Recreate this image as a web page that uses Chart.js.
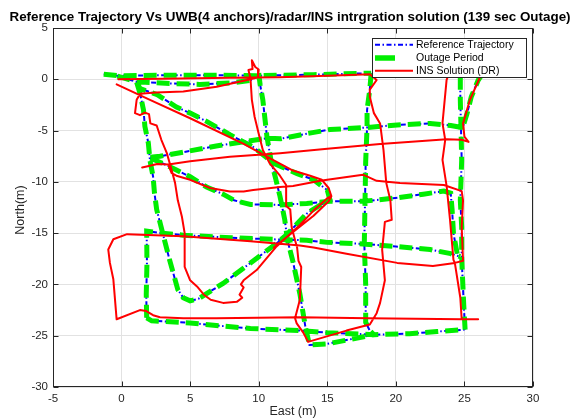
<!DOCTYPE html>
<html>
<head>
<meta charset="utf-8">
<script src="https://cdn.jsdelivr.net/npm/chart.js@4.4.0/dist/chart.umd.min.js"></script>
<style>
  html, body { margin: 0; padding: 0; background: #fff; }
  #wrap { width: 577px; height: 420px; }
</style>
</head>
<body>
<div id="wrap"><canvas id="c" width="577" height="420"></canvas></div>
<script>
// axis ranges and ticks
const xRange = [-5, 30];
const yRange = [-30, 5];
const tickStep = 5;

// reference trajectory pieces, [east, north] in metres
const refTop = [[-1.3,0.5],[-0.3,0.35],[3,0.4],[7,0.4],[10,0.35],[14,0.45],[18.2,0.6]];
const refTopLow = [[-0.3,0.3],[1.1,-0.25],[3.5,-0.4],[5.7,-0.5],[8,-0.35],[9.4,-0.1],[10.0,0.35]];
const refDiag = [[1.1,-0.3],[1.35,-0.9],[2.6,-1.5],[4.0,-2.7],[5.0,-3.3],[6.2,-4.1],[7.9,-5.4],[9.6,-6.6],[11.1,-8.2],[12.8,-9.2],[14.0,-9.8],[15.0,-10.8],[15.2,-11.8]];
const refLeft = [[1.1,-0.3],[1.35,-1.4],[1.6,-3.0],[1.7,-4.6],[1.95,-6.2],[2.07,-7.9],[2.3,-9.5],[2.4,-11.1],[2.56,-12.7],[3.0,-15.0],[3.5,-17.6],[4.1,-20.5],[4.5,-21.3],[5.0,-21.6],[5.6,-21.4],[6.2,-20.9],[7.4,-19.9],[9.4,-17.9],[11.3,-16.0],[12.0,-15.2],[13.5,-13.1],[14.5,-12.25],[15.2,-11.8]];
const refNorth5 = [[2.1,-7.6],[2.8,-7.5],[4.5,-7.1],[6.9,-6.5],[9.4,-6.0],[10.6,-5.75],[11.6,-5.8],[13.5,-5.3],[15.2,-4.9],[17.9,-4.7],[20.1,-4.45],[22.5,-4.3],[24.0,-4.5],[24.8,-4.7]];
const refNorth12 = [[2.1,-7.7],[3.0,-8.2],[4.0,-8.85],[5.0,-9.5],[6.2,-10.5],[7.4,-11.2],[8.2,-11.8],[9.4,-12.2],[11.5,-12.25],[13.5,-12.1],[15.2,-11.9],[17.6,-11.9],[19.8,-11.6],[22,-11.2],[23.5,-10.9],[24.0,-11.1],[24.1,-12.7],[24.2,-15.0],[24.5,-17.2]];
const refCentre = [[10.0,0.6],[10.1,-0.5],[10.3,-2.0],[10.6,-5.6],[10.9,-7.9],[11.2,-9.5],[11.55,-11.4],[11.9,-13.7],[12.1,-15.7],[12.5,-17.8],[13.0,-20.9],[13.4,-24.1],[13.7,-25.9],[15,-25.8],[16.5,-25.4],[18.4,-24.9]];
const refEast18 = [[18.2,0.6],[18.1,-1.0],[17.9,-3],[17.9,-4.7],[17.8,-8],[17.75,-12],[17.7,-16],[17.8,-20],[17.8,-23.7],[18.1,-24.5],[18.4,-24.9]];
const refSouth15 = [[1.83,-23.25],[1.8,-21],[1.85,-18],[1.83,-14.8],[3,-15.0],[4.5,-15.2],[8,-15.45],[11,-15.6],[13.5,-15.7],[15,-15.9],[17.6,-16.05],[20,-16.3],[22.5,-16.6],[24.0,-17.0],[24.7,-17.3]];
const refSouth24 = [[1.83,-23.25],[2.2,-23.55],[3,-23.6],[5,-23.75],[6.9,-24.0],[9.4,-24.3],[13.0,-24.5],[15,-24.7],[18.4,-24.9],[21,-24.8],[23,-24.6],[25.05,-24.4]];
const refEast25 = [[25.05,-24.4],[24.95,-22],[24.85,-19],[24.8,-17.3],[24.8,-14.4],[24.7,-11.8],[24.8,-7.9],[24.75,-4.7],[24.7,-2],[24.7,0.3]];
const refEast26 = [[26.3,0.5],[26.0,-0.1],[25.5,-1.7],[25.2,-3.3],[24.9,-4.6]];

// INS (dead reckoning) pieces
const insMain = [[-0.24,0.0],[3,0.05],[7.9,0.15],[11.5,0.2],[15,0.35],[18.1,0.5],[18.6,-0.07],[18.1,-1.0],[18.1,-1.7],[18.4,-3.3],[18.85,-4.3],[19.1,-6.9],[19.3,-10.1],[19.6,-11.8],[19.7,-13.7],[19.2,-13.9],[19.1,-15.3],[19.0,-16.6],[19.2,-19.6],[18.85,-21.8],[18.6,-22.8],[18.1,-23.9],[16.4,-24.5],[13.6,-25.6],[13.25,-24.7],[12.77,-23.8],[12.65,-23.3],[13.0,-21.5],[13.1,-18.3],[12.9,-17.7],[12.8,-16.4],[12.65,-15.7],[12.4,-14.4],[12.3,-12.7],[12.05,-12.4],[12.0,-10.3],[11.55,-9.4],[10.8,-8.2],[10.3,-6.9],[10.0,-5.3],[9.7,-3.65],[9.5,-2.0],[9.4,0.1],[9.25,0.9],[9.55,1.0],[9.5,1.85],[9.75,1.2],[10.0,0.95],[9.95,0.2],[9.4,0.0],[6.94,-0.72],[4.5,-1.2],[2.5,-1.3],[1.35,-1.4],[1.1,-2.0],[0.98,-3.3],[1.34,-3.5],[1.7,-3.25],[2.0,-3.4],[2.1,-4.3],[2.56,-4.5],[2.9,-5.9],[3.3,-7.2],[3.65,-8.85],[3.9,-10.1],[4.1,-11.8],[4.4,-13.4],[4.6,-15.0],[4.6,-18.3],[5.0,-19.6],[5.5,-20.2],[6.0,-21.0],[6.5,-21.5],[7.4,-21.8],[8.4,-21.7],[8.8,-21.3],[8.6,-21.0],[8.9,-20.3],[8.7,-20.0],[8.9,-19.6],[9.85,-18.6],[11.3,-16.3],[13.0,-14.2],[14.0,-12.8],[15.0,-11.6],[15.3,-11.4],[15.1,-10.6],[14.6,-9.8]];
const insDiag = [[14.6,-9.8],[13.75,-9.4],[12.5,-8.9],[11.1,-7.9],[8.9,-6.3],[5.0,-3.8],[2.07,-2.0],[-0.36,-0.5]];
const insReturn = [[15.3,-11.4],[15.1,-11.9],[14.0,-13.3],[12.6,-14.8],[11.1,-16.4]];
const insMid7 = [[1.5,-8.6],[1.83,-8.5],[2.6,-8.25],[3.4,-8.3],[5.0,-8.0],[7.9,-7.55],[11.55,-7.2],[15.2,-6.75],[18.85,-6.3],[23.7,-5.85],[24.8,-5.9],[25.3,-6.1],[25.0,-5.6],[24.9,-4.3],[25.4,-2.0],[26.1,0.1],[26.5,0.9]];
const insMid10 = [[3.4,-8.3],[3.65,-9.15],[4.0,-9.4],[5.0,-9.8],[6.45,-10.6],[7.9,-10.95],[8.9,-10.95],[9.6,-10.8],[11.55,-10.5],[12.5,-10.4],[14.5,-9.9],[15.0,-9.8],[17.6,-9.3],[18.6,-9.9],[20.3,-10.1],[23.5,-10.3],[24.8,-10.9],[24.9,-11.8],[24.8,-14.4],[24.9,-17.7],[24.3,-17.9],[22.7,-18.2],[20.1,-17.9],[16.4,-17.0],[14.0,-16.4],[13.0,-16.2],[9.4,-15.8],[4.5,-15.3],[0.4,-15.1],[-0.6,-15.6],[-0.97,-16.6],[-0.85,-17.9],[-0.6,-19.5],[-0.36,-23.4],[1.34,-22.5],[1.8,-22.6],[2.3,-23.0],[2.8,-23.2],[4.5,-23.3],[6.9,-23.3],[13.0,-23.2],[18.0,-23.3],[24.8,-23.4],[26.0,-23.4]];
const insEast24 = [[23.8,0.3],[23.7,-0.05],[23.4,-4.3],[23.6,-5.9],[23.4,-7.85],[23.7,-10.4],[23.95,-13.7],[24.2,-17.6],[24.3,-17.9],[24.7,-21.3],[24.8,-23.4]];

const refPieces = [refTop, refTopLow, refDiag, refLeft, refNorth5, refNorth12, refCentre, refEast18, refSouth15, refSouth24, refEast25, refEast26];
const insPieces = [insMain, insDiag, insReturn, insMid7, insMid10, insEast24];

const titleText = 'Reference Trajectory Vs UWB(4 anchors)/radar/INS intrgration solution (139 sec Outage)';
const seriesNames = ['Reference Trajectory', 'Outage Period', 'INS Solution (DR)'];

const FONT = '"Liberation Sans", Arial, Helvetica, sans-serif';
const INK = '#262626';
const BLUE_DASH = [5, 2.5, 1.5, 2.5];

// pieces joined with a null point so each one is its own stroke
function joinPieces(pieces) {
  const pts = [];
  pieces.forEach((p, i) => {
    if (i) pts.push({ x: null, y: null });
    p.forEach(v => pts.push({ x: v[0], y: v[1] }));
  });
  return pts;
}

// matlab style box: frame, inward ticks, title, labels, legend
const axesBox = {
  id: 'axesBox',
  afterDatasetsDraw(chart) {
    const { ctx, chartArea: a, scales } = chart;
    const L = Math.round(a.left) + 0.5, R = Math.round(a.right) - 0.5;
    const T = Math.round(a.top) + 0.5, B = Math.round(a.bottom) - 0.5;
    ctx.save();
    ctx.strokeStyle = INK;
    ctx.lineWidth = 1;
    ctx.strokeRect(L, T, R - L, B - T);
    ctx.beginPath();
    scales.x.ticks.forEach(t => {
      const px = Math.round(scales.x.getPixelForValue(t.value)) + 0.5;
      ctx.moveTo(px, B); ctx.lineTo(px, B - 5);
      ctx.moveTo(px, T); ctx.lineTo(px, T + 5);
    });
    scales.y.ticks.forEach(t => {
      const py = Math.round(scales.y.getPixelForValue(t.value)) + 0.5;
      ctx.moveTo(L, py); ctx.lineTo(L + 5, py);
      ctx.moveTo(R, py); ctx.lineTo(R - 5, py);
    });
    ctx.stroke();
    ctx.restore();
  },
  afterDraw(chart) {
    const { ctx, chartArea: a } = chart;
    ctx.save();
    ctx.fillStyle = '#000';
    ctx.textAlign = 'center';
    ctx.textBaseline = 'middle';
    ctx.font = 'bold 13.4px ' + FONT;
    ctx.fillText(titleText, 290, 17);
    ctx.fillStyle = INK;
    ctx.font = '12.5px ' + FONT;
    ctx.fillText('East (m)', (a.left + a.right) / 2, 412);
    ctx.translate(20.5, 210);
    ctx.rotate(-Math.PI / 2);
    ctx.fillText('North(m)', 0, 0);
    ctx.restore();

    // legend
    ctx.save();
    ctx.fillStyle = '#fff';
    ctx.fillRect(373, 39, 153, 38);
    ctx.strokeStyle = INK;
    ctx.lineWidth = 1;
    ctx.strokeRect(372.5, 38.5, 154, 39);
    const rows = [44.7, 58, 70.7];
    ctx.lineWidth = 2;
    ctx.strokeStyle = '#0000ff';
    ctx.setLineDash(BLUE_DASH);
    ctx.beginPath(); ctx.moveTo(375, rows[0]); ctx.lineTo(413, rows[0]); ctx.stroke();
    ctx.setLineDash([]);
    ctx.strokeStyle = '#00ee00';
    ctx.lineWidth = 5.5;
    ctx.beginPath(); ctx.moveTo(375, rows[1]); ctx.lineTo(395, rows[1]); ctx.stroke();
    ctx.strokeStyle = '#ff0000';
    ctx.lineWidth = 2;
    ctx.beginPath(); ctx.moveTo(375, rows[2]); ctx.lineTo(413, rows[2]); ctx.stroke();
    ctx.fillStyle = '#000';
    ctx.font = '10.5px ' + FONT;
    ctx.textBaseline = 'middle';
    seriesNames.forEach((n, i) => ctx.fillText(n, 416, rows[i]));
    ctx.restore();
  }
};

const tickFont = { family: FONT, size: 11.5 };

new Chart(document.getElementById('c').getContext('2d'), {
  type: 'scatter',
  data: {
    datasets: [
      { label: seriesNames[2], data: joinPieces(insPieces), showLine: true, pointRadius: 0,
        borderColor: '#ff0000', borderWidth: 2, borderJoinStyle: 'round', borderCapStyle: 'round' },
      { label: seriesNames[1], data: joinPieces(refPieces), showLine: true, pointRadius: 0,
        borderColor: '#00ee00', borderWidth: 5, borderDash: [13, 7] },
      { label: seriesNames[0], data: joinPieces(refPieces), showLine: true, pointRadius: 0,
        borderColor: '#0000ff', borderWidth: 2, borderDash: BLUE_DASH }
    ]
  },
  options: {
    responsive: false,
    animation: false,
    events: [],
    layout: { padding: { top: 28, right: 44, bottom: 0, left: 0 } },
    plugins: { legend: { display: false }, tooltip: { enabled: false }, title: { display: false } },
    scales: {
      x: {
        type: 'linear', min: xRange[0], max: xRange[1],
        ticks: { stepSize: tickStep, padding: 5, color: INK, font: tickFont },
        grid: { color: '#e2e2e2', drawTicks: false },
        border: { display: false },
        afterFit: s => { s.height = 33; }
      },
      y: {
        type: 'linear', min: yRange[0], max: yRange[1],
        ticks: { stepSize: tickStep, padding: 5, color: INK, font: tickFont },
        grid: { color: '#e2e2e2', drawTicks: false },
        border: { display: false },
        afterFit: s => { s.width = 53; }
      }
    }
  },
  plugins: [axesBox]
});
</script>
</body>
</html>
